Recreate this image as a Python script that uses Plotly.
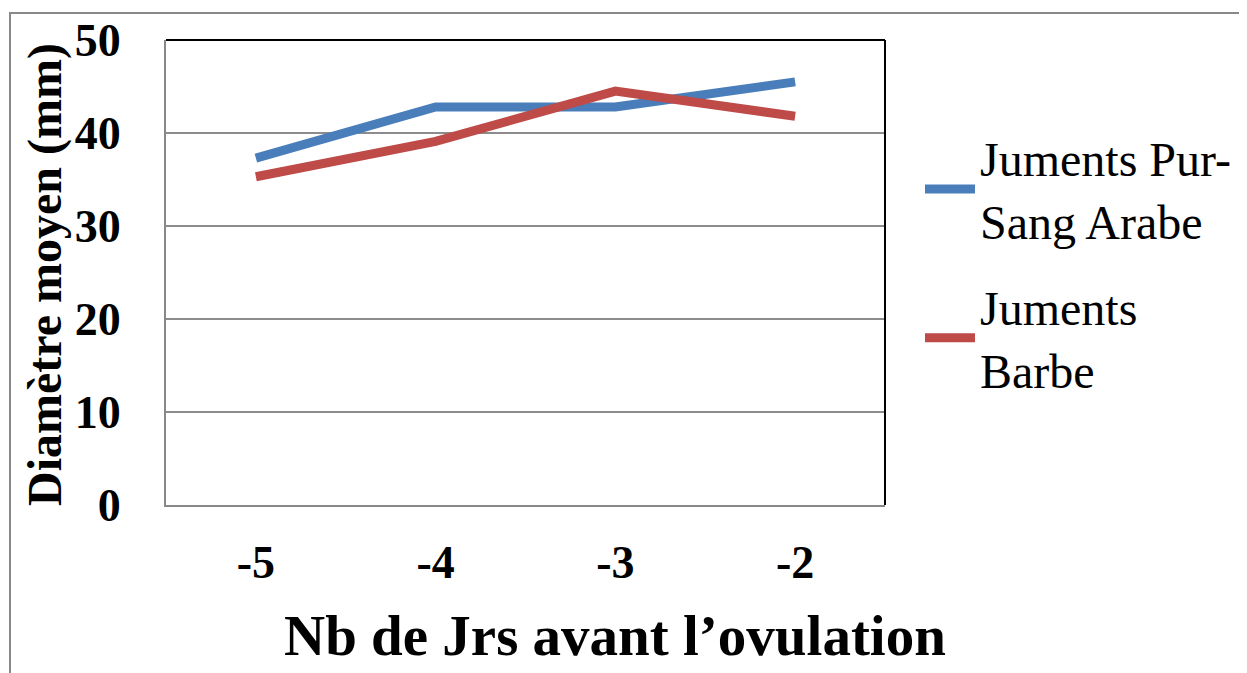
import plotly.graph_objects as go

days = ["-5", "-4", "-3", "-2"]
pur_sang_arabe = [37.3, 42.8, 42.8, 45.5]
barbe = [35.3, 39.1, 44.5, 41.8]
series_names = ["Juments Pur-<br>Sang Arabe", "Juments<br>Barbe"]
y_ticks = [0, 10, 20, 30, 40, 50]

# page body has an 8px margin; positions below are in figure pixels
L, T = 158, 32
pw, ph = 719, 465
W, H = 1247, 673
R, B = W - L - pw, H - T - ph

def px(x):
    return (x - L) / pw

def py(y):
    return 1 - (y - T) / ph

fig = go.Figure()
fig.add_trace(go.Scatter(x=days, y=pur_sang_arabe, mode="lines", name=series_names[0],
                         legendgroup="a", line=dict(color="#4A7EBB", width=9)))
fig.add_trace(go.Scatter(x=days, y=barbe, mode="lines", name=series_names[1],
                         legendgroup="b", line=dict(color="#BE4B48", width=9)))

ff = "Liberation Serif"

fig.update_layout(
    width=W, height=H,
    margin=dict(l=L, r=R, t=T, b=B, autoexpand=False),
    paper_bgcolor="white", plot_bgcolor="white",
    font=dict(family=ff, color="black"),
    showlegend=True,
    legend=dict(x=px(912), y=py(112), xanchor="left", yanchor="top",
                font=dict(size=48, family=ff, color="black"),
                tracegroupgap=21, itemwidth=50, bgcolor="rgba(0,0,0,0)"),
    xaxis=dict(type="category", showgrid=False, showline=True, linecolor="#888888", linewidth=2,
               ticks="", tickfont=dict(size=46, family=ff, color="black", weight="bold"),
               ticklabelstandoff=16, range=[-0.5, 3.5]),
    yaxis=dict(range=[0, 50], tickvals=y_ticks, showgrid=True, gridcolor="#8c8c8c", gridwidth=1.5,
               showline=True, linecolor="#888888", linewidth=2, ticks="",
               tickfont=dict(size=46, family=ff, color="black", weight="bold"),
               ticklabelstandoff=34, zeroline=False),
    shapes=[
        dict(type="line", xref="paper", yref="paper", x0=0, x1=1, y0=1, y1=1,
             line=dict(color="black", width=2)),
        dict(type="line", xref="paper", yref="paper", x0=1, x1=1, y0=0, y1=1,
             line=dict(color="black", width=2)),
        dict(type="rect", xref="paper", yref="paper",
             x0=px(2), x1=px(1300), y0=py(720), y1=py(5),
             line=dict(color="#888888", width=2), layer="below"),
    ],
    annotations=[
        dict(text="Nb de Jrs avant l’ovulation", xref="paper", yref="paper",
             x=px(607), y=py(627), xanchor="center", yanchor="middle",
             showarrow=False, font=dict(size=57, family=ff, color="black", weight="bold")),
        dict(text="Diamètre moyen (mm)", xref="paper", yref="paper",
             x=px(37), y=py(267), xanchor="center", yanchor="middle",
             textangle=-90, showarrow=False,
             font=dict(size=48, family=ff, color="black", weight="bold")),
    ],
)

fig.write_html("out.html")
